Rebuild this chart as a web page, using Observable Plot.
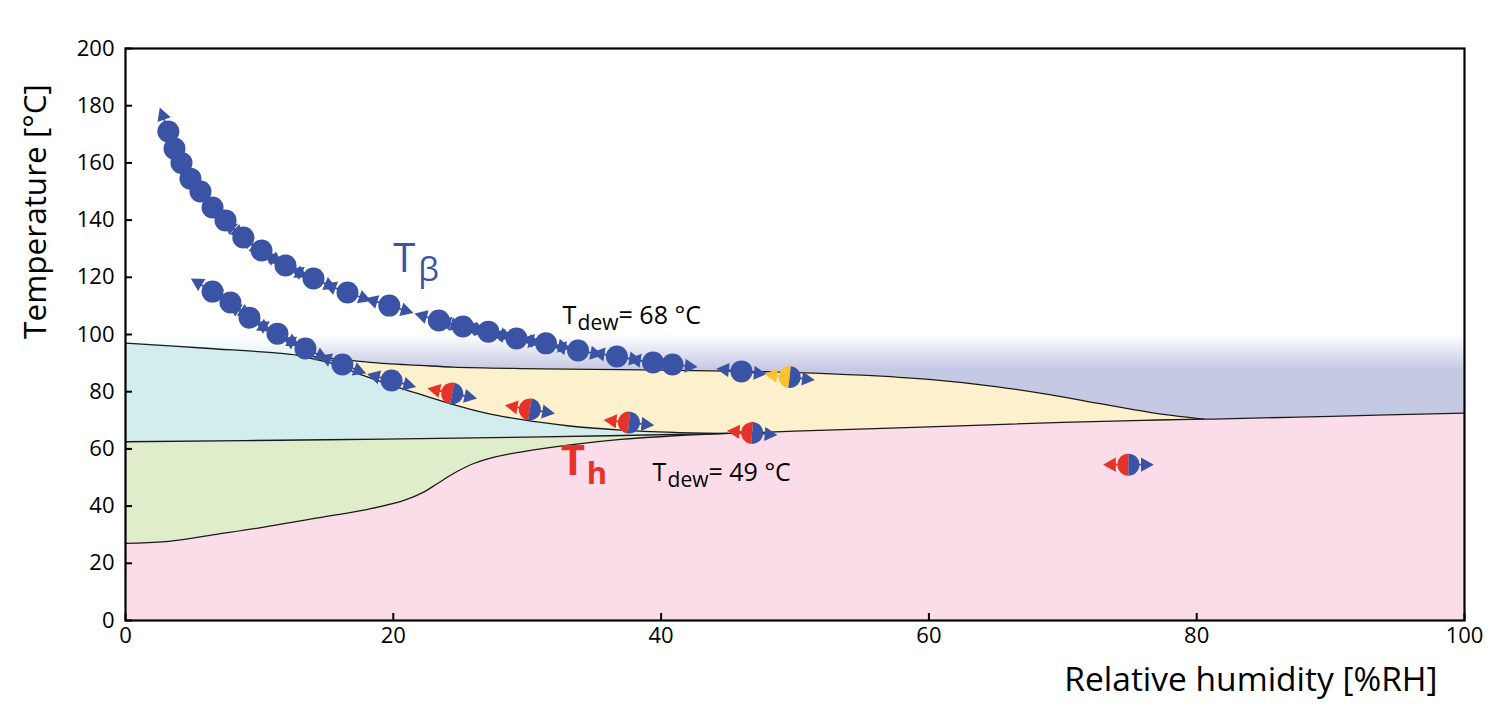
<!DOCTYPE html>
<html><head><meta charset="utf-8">
<script src="https://cdn.jsdelivr.net/npm/d3@7"></script>
<script src="https://cdn.jsdelivr.net/npm/@observablehq/plot@0.6"></script>
<style>
body{margin:0;background:#fff;}
</style>
</head><body><div id="chart"></div>
<script>
// ---------- data ----------
const xTicks = [0, 20, 40, 60, 80, 100];
const yTicks = [0, 20, 40, 60, 80, 100, 120, 140, 160, 180, 200];

// region boundaries (x = %RH, y = °C)
const pinkTopX = [0, 3, 7, 10, 14.5, 18, 20.8, 22.3, 23.3, 24.5, 26, 27.7, 29.5, 33.2, 37, 41, 45, 50, 60, 70, 76, 80.5, 82, 90, 100];
const pinkTopY = [27, 27.6, 30.3, 32.4, 36, 38.8, 42, 45, 47.9, 51.4, 54.9, 57.3, 58.9, 61.4, 63.3, 64.6, 65.4, 66.2, 67.7, 69.3, 70, 70.4, 70.5, 71.4, 72.5];
const greenTopX = [0, 15, 30, 45];
const greenTopY = [62.5, 63.2, 64.1, 65.4];
const cyanTopX = [0, 6, 12.8, 14, 15.5, 17.8, 20.3, 22.5, 24.5, 27, 29.5, 33, 37, 41, 45];
const cyanTopY = [97, 95.2, 92.8, 91.5, 89.8, 85.6, 81.6, 78.4, 75.5, 72.4, 70.3, 68.1, 66.6, 65.8, 65.4];
const yellowTopX = [12.8, 15, 17, 19.5, 22, 24.5, 29.5, 37, 45, 50, 55, 60, 65, 69, 72.8, 76.5, 80.5];
const yellowTopY = [92.8, 91.8, 90.9, 89.8, 89.2, 88.6, 88.1, 87.7, 87.2, 86.7, 85.8, 84.3, 81.8, 79, 75.8, 72.8, 70.4];
const hazeTop = 100, hazeBottom = 60, hazeSplitX = 12.8;

// T_beta chain (upper)
const tBetaX = [3.2, 3.66, 4.18, 4.85, 5.6, 6.5, 7.47, 8.8, 10.16, 11.95, 14.04, 16.58, 19.7, 23.4, 25.2, 27.1, 29.2, 31.4, 33.8, 36.7, 39.4, 40.85, 46.0, 49.6];
const tBetaY = [171, 165, 160, 154.5, 150, 144.4, 139.9, 133.9, 129.4, 124.1, 119.6, 114.7, 110.1, 104.9, 102.8, 101, 98.6, 96.9, 94.4, 92.3, 90.2, 89.5, 87.1, 85.1];
const tBetaKind = ["b","b","b","b","b","b","b","b","b","b","b","b","b","b","b","b","b","b","b","b","b","b","b","y"];
// T_h chain (lower)
const tHX = [6.5, 7.84, 9.26, 11.35, 13.44, 16.2, 19.87, 24.4, 30.2, 37.6, 46.8];
const tHY = [115, 111.2, 105.9, 100.3, 95.1, 89.5, 83.9, 79.4, 73.8, 69.2, 65.6];
const tHKind = ["b","b","b","b","b","b","b","r","r","r","r"];
// isolated point
const isoX = [74.9];
const isoY = [54.5];
const isoKind = ["r"];

const annotations = [{x: 32.64, y: 103.8, label: "= 68 °C"}, {x: 39.36, y: 48.95, label: "= 49 °C"}];

// ---------- layout / style ----------
const W = 1507, H = 720;
const margin = {top: 48, right: 43, bottom: 100, left: 125};
const BLUE = "#3a53a4", RED = "#e6332a", YEL = "#f9c22e";
const kindColor = {b: BLUE, r: RED, y: YEL};
const FONT = "Open Sans";

const kx = (W - margin.left - margin.right) / 100;
const ky = (H - margin.top - margin.bottom) / 200;

const pts = (xs, ys) => xs.map((x, i) => ({x, y: ys[i]}));
const pinkTop = pts(pinkTopX, pinkTopY);
const greenTop = pts(greenTopX, greenTopY);
const cyanTop = pts(cyanTopX, cyanTopY);
const yellowTop = pts(yellowTopX, yellowTopY);

function chain(xs, ys, kinds) {
  return xs.map((x, i) => {
    const a = i > 0 ? i - 1 : i, b = i < xs.length - 1 ? i + 1 : i;
    let dx = (xs[b] - xs[a]) * kx, dy = (ys[b] - ys[a]) * ky;
    if (a === b) { dx = 1; dy = 0; }
    const fwd = Math.atan2(dx, dy) * 180 / Math.PI;
    return {x, y: ys[i], kind: kinds[i], fwd, rot: fwd - 90, back: kindColor[kinds[i]]};
  });
}
const points = [...chain(tBetaX, tBetaY, tBetaKind), ...chain(tHX, tHY, tHKind), ...chain(isoX, isoY, isoKind)];
const arrows = points.flatMap(p => [
  {x: p.x, y: p.y, angle: p.fwd, color: BLUE},
  {x: p.x, y: p.y, angle: p.fwd + 180, color: p.back}
]);
const fullDots = points.filter(p => p.kind === "b");
const halfDots = points.filter(p => p.kind !== "b");

const arrowShape = {
  draw(ctx, l, r) {
    ctx.moveTo(0, -9); ctx.lineTo(0, -15);
    ctx.moveTo(-5.5, -13.5); ctx.lineTo(0, -23.5); ctx.lineTo(5.5, -13.5); ctx.closePath();
  }
};
const halfLeft = {draw(ctx, size) { const r = Math.sqrt(size / Math.PI); ctx.moveTo(0, -r); ctx.arc(0, 0, r, -Math.PI / 2, Math.PI / 2, true); ctx.closePath(); }};
const halfRight = {draw(ctx, size) { const r = Math.sqrt(size / Math.PI); ctx.moveTo(0, -r); ctx.arc(0, 0, r, -Math.PI / 2, Math.PI / 2, false); ctx.closePath(); }};

const curve = "catmull-rom";
const lineStyle = {x: "x", y: "y", stroke: "#1a1a1a", strokeWidth: 1.3, curve};

const svg = Plot.plot({
  width: W, height: H,
  marginTop: margin.top, marginRight: margin.right, marginBottom: margin.bottom, marginLeft: margin.left,
  style: {fontFamily: FONT, background: "white", color: "black"},
  x: {domain: [0, 100], label: null},
  y: {domain: [0, 200], label: null},
  marks: [
    Plot.areaY([{x: 0}, {x: hazeSplitX}], {x: "x", y1: hazeBottom, y2: hazeTop, fill: "url(#hazeCyan)"}),
    Plot.areaY([{x: hazeSplitX}, {x: 100}], {x: "x", y1: hazeBottom, y2: hazeTop, fill: "url(#hazeLav)"}),
    Plot.areaY(yellowTop, {x: "x", y1: 0, y2: "y", fill: "#fdf0cc", curve}),
    Plot.areaY(cyanTop, {x: "x", y1: 0, y2: "y", fill: "#d3ecee", curve}),
    Plot.areaY(greenTop, {x: "x", y1: 0, y2: "y", fill: "#e0edcb", curve}),
    Plot.areaY(pinkTop, {x: "x", y1: 0, y2: "y", fill: "#fbdde9", curve}),
    Plot.line(yellowTop, lineStyle),
    Plot.line(cyanTop, lineStyle),
    Plot.line(greenTop, lineStyle),
    Plot.line(pinkTop, lineStyle),
    Plot.vector(arrows, {x: "x", y: "y", rotate: "angle", length: 23, anchor: "start", shape: arrowShape,
      stroke: "color", fill: "color", strokeWidth: 1.8, strokeLinejoin: "miter"}),
    Plot.dot(fullDots, {x: "x", y: "y", r: 11, fill: BLUE}),
    Plot.dot(halfDots, {x: "x", y: "y", r: 11, symbol: halfLeft, fill: "back", rotate: "rot"}),
    Plot.dot(halfDots, {x: "x", y: "y", r: 11, symbol: halfRight, fill: BLUE, rotate: "rot"}),
    // labels
    Plot.text(["T"], {x: 20.0, y: 121.7, text: d => d, textAnchor: "start", lineAnchor: "bottom", fontSize: 40, fill: BLUE}),
    Plot.text(["β"], {x: 20.0, y: 121.7, text: d => d, textAnchor: "start", lineAnchor: "bottom", dx: 25, dy: 9, fontSize: 33, fill: BLUE}),
    Plot.text(["T"], {x: 32.5, y: 51.0, text: d => d, textAnchor: "start", lineAnchor: "bottom", fontSize: 42, fontWeight: 700, fill: RED}),
    Plot.text(["h"], {x: 32.5, y: 51.0, text: d => d, textAnchor: "start", lineAnchor: "bottom", dx: 26, dy: 9, fontSize: 31, fontWeight: 700, fill: RED}),
    Plot.text(annotations, {x: "x", y: "y", text: () => "T", textAnchor: "start", lineAnchor: "bottom", fontSize: 25, fill: "black"}),
    Plot.text(annotations, {x: "x", y: "y", text: () => "dew", textAnchor: "start", lineAnchor: "bottom", dx: 15, dy: 6, fontSize: 21, fill: "black"}),
    Plot.text(annotations, {x: "x", y: "y", text: "label", textAnchor: "start", lineAnchor: "bottom", dx: 56, fontSize: 25, fill: "black"}),
    Plot.text(["Temperature [°C]"], {frameAnchor: "top-left", rotate: -90, dx: -80, dy: 163, textAnchor: "middle", lineAnchor: "bottom", fontSize: 31.5, fill: "black"}),
    Plot.text(["Relative humidity [%RH]"], {frameAnchor: "bottom-right", textAnchor: "end", lineAnchor: "bottom", dx: -27, dy: 70, fontSize: 33.5, fill: "black"}),
    // axes: inward ticks, labels drawn as text marks
    Plot.axisX({ticks: xTicks, tickSize: -7, tickFormat: () => "", strokeWidth: 2, label: null}),
    Plot.axisY({ticks: yTicks, tickSize: -7, tickFormat: () => "", strokeWidth: 2, label: null}),
    Plot.text(xTicks, {x: d => d, text: d => String(d), frameAnchor: "bottom", lineAnchor: "top", dy: 7, fontSize: 22, fill: "black"}),
    Plot.text(yTicks, {y: d => d, text: d => String(d), frameAnchor: "left", textAnchor: "end", dx: -11, fontSize: 22, fill: "black"}),
    Plot.frame({stroke: "black", strokeWidth: 2.2})
  ]
});

d3.select(svg).insert("defs", ":first-child").html(`
  <linearGradient id="hazeLav" x1="0" y1="0" x2="0" y2="1">
    <stop offset="0" stop-color="#ffffff"/>
    <stop offset="0.31" stop-color="#c6c9e4"/>
    <stop offset="1" stop-color="#c6c9e4"/>
  </linearGradient>
  <linearGradient id="hazeCyan" x1="0" y1="0" x2="0" y2="1">
    <stop offset="0" stop-color="#ffffff"/>
    <stop offset="0.31" stop-color="#d3ecee"/>
    <stop offset="1" stop-color="#d3ecee"/>
  </linearGradient>`);
document.getElementById("chart").appendChild(svg);
</script>
</body></html>
